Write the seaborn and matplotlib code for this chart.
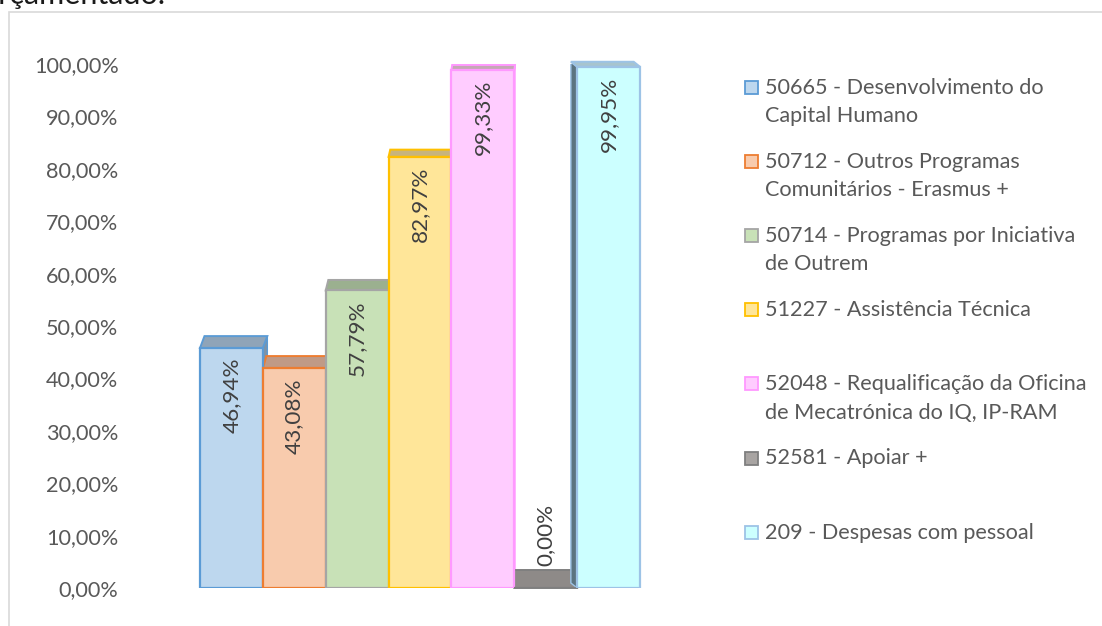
import matplotlib
matplotlib.use("Agg")
import matplotlib.pyplot as plt
from matplotlib.patches import Polygon, Rectangle
import numpy as np
import pandas as pd
import seaborn as sns

# Execution rate per budget project
categories = [
    "50665 - Desenvolvimento do\nCapital Humano",
    "50712 - Outros Programas\nComunitários - Erasmus +",
    "50714 - Programas por Iniciativa\nde Outrem",
    "51227 - Assistência Técnica",
    "52048 - Requalificação da Oficina\nde Mecatrónica do IQ, IP-RAM",
    "52581 - Apoiar +",
    "209 - Despesas com pessoal",
]
values = [0.4694, 0.4308, 0.5779, 0.8297, 0.9933, 0.0000, 0.9995]
y_ticks = [0.0, 0.1, 0.2, 0.3, 0.4, 0.5, 0.6, 0.7, 0.8, 0.9, 1.0]

# Styling: front fill, outline, top-face shade
face_colors = ["#BDD7EE", "#F8CBAD", "#C8E1B7", "#FFE699", "#FFCCFF", "#A8A4A2", "#CCFFFF"]
edge_colors = ["#5B9BD5", "#ED7D31", "#A5A5A5", "#FFC000", "#FF99FF", "#7F7F7F", "#9DC3E6"]
top_colors = ["#8FA4B8", "#C09A86", "#9BB08F", "#C7B47D", "#C4A8B4", "#8E8A88", "#A8C4CE"]
side_colors = ["#7E93A6", "#A9836F", "#889C7D", "#B3A06A", "#B594B0", "#7A7674", "#5C7480"]

W, H = 1102, 626
FS = 15.6
sns.set_theme(style="white")
plt.rcParams["font.family"] = ["Lato", "DejaVu Sans"]

fig = plt.figure(figsize=(W / 100, H / 100), dpi=100)

# light frame of the chart object
fig.patches.append(Rectangle((9 / W, -0.05), 1.1, 1 - 12 / H + 0.05, transform=fig.transFigure,
                             fill=False, edgecolor="#D9D9D9", linewidth=1.2))
# tail of the document sentence above the chart
fig.text(166 / W, 1 - 4 / H, "orçamentado.", ha="right", va="baseline",
         fontsize=22, color="#1A1A1A")

ax = fig.add_axes([140 / W, 38 / H, 560 / W, 524 / H])
df = pd.DataFrame({"projeto": categories, "taxa": values})
sns.barplot(data=df, x="projeto", y="taxa", hue="projeto", palette=face_colors,
            width=1.0, legend=False, ax=ax, zorder=3, saturation=1)

ax.set_xlim(-1.4545, 7.4545)
ax.set_ylim(0, 1.0)
ax.set_yticks(y_ticks)
ax.set_yticklabels([f"{t * 100:.2f}%".replace(".", ",") for t in y_ticks])
ax.tick_params(axis="y", length=0, pad=15.5, labelsize=FS, labelcolor="#595959")
ax.set_xticks([])
ax.set_xlabel("")
ax.set_ylabel("")
for s in ax.spines.values():
    s.set_visible(False)
ax.patch.set_alpha(0)

# pixel -> data scale factors
px_y = 1.0 / 524.0
px_x = (7.4545 + 1.4545) / 560.0
vanish_px = 530.0

for i, bar in enumerate(ax.patches):
    v = bar.get_height()
    x0 = bar.get_x()
    x1 = x0 + bar.get_width()
    cx_px = 140 + (x0 + bar.get_width() / 2 + 1.4545) / px_x
    depth = (18 - 13 * v) * px_y
    k = 0.015 if cx_px < vanish_px else 0.08
    dx = (vanish_px - cx_px) * k * px_x
    front = max(v - depth / 2, 0.0)
    back = front + depth

    bar.set_height(front)
    bar.set_edgecolor(edge_colors[i])
    bar.set_linewidth(1.6)

    # visible side face
    if dx > 0:
        side = [(x1, 0), (x1, front), (x1 + dx, back), (x1 + dx, depth)]
    else:
        side = [(x0, 0), (x0, front), (x0 + dx, back), (x0 + dx, depth)]
    ax.add_patch(Polygon(side, closed=True, facecolor=side_colors[i], edgecolor=edge_colors[i],
                         linewidth=1.0, zorder=2))
    # top face
    top = [(x0, front), (x1, front), (x1 + dx, back), (x0 + dx, back)]
    ax.add_patch(Polygon(top, closed=True, facecolor=top_colors[i], edgecolor=edge_colors[i],
                         linewidth=1.4, zorder=2, clip_on=False))

    label = f"{v * 100:.2f}%".replace(".", ",")
    cx = x0 + bar.get_width() / 2
    if v > 0.1:
        ax.annotate(label, (cx, front), xytext=(0, -10 * 0.72), textcoords="offset points",
                    rotation=90, ha="center", va="top", fontsize=FS + 0.6, color="#404040", zorder=5)
    else:
        ax.annotate(label, (cx, back), xytext=(0, 4 * 0.72), textcoords="offset points",
                    rotation=90, ha="center", va="bottom", fontsize=FS + 0.6, color="#404040", zorder=5)

# legend, one slot per project, first line aligned with the swatch
slot = 74.2
line_h = 28.5
for i, lab in enumerate(categories):
    yc = 87 + i * slot
    fig.patches.append(Rectangle((745 / W, 1 - (yc + 6.5) / H), 13 / W, 13 / H,
                                 transform=fig.transFigure, facecolor=face_colors[i],
                                 edgecolor=edge_colors[i], linewidth=1.3))
    for j, line in enumerate(lab.split("\n")):
        fig.text(765 / W, 1 - (yc + j * line_h + 6.5) / H, line, ha="left", va="baseline",
                 fontsize=FS, color="#595959")

fig.savefig("out.png", dpi=100)
